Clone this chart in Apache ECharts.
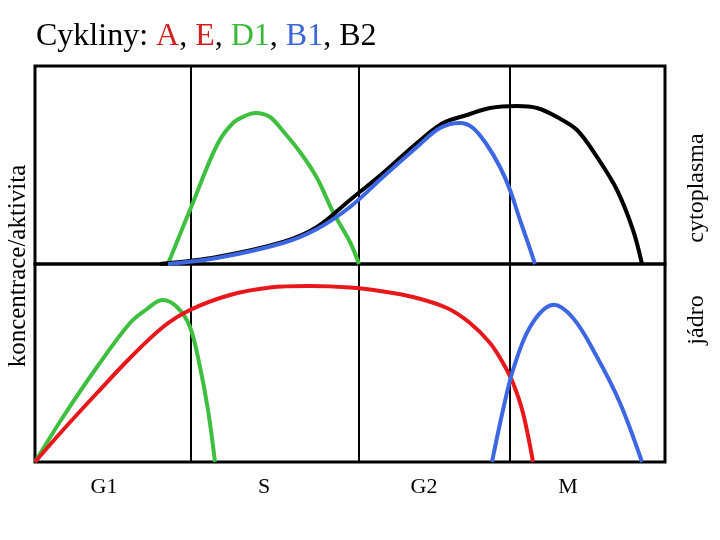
<!DOCTYPE html>
<html>
<head>
<meta charset="utf-8">
<script src="https://cdn.jsdelivr.net/npm/echarts@6/dist/echarts.min.js"></script>
<style>html,body{margin:0;padding:0;background:#fff;}#c{width:720px;height:540px;}</style>
</head>
<body>
<div id="c"></div>
<script>
// x: time across the cell cycle (arbitrary units 0..630), y: level above each panel's baseline (0..198)
const phaseBounds = [156, 324, 475];
const phaseLabelPos = [69, 229, 389, 533];
const phaseNames = ['G1', 'S', 'G2', 'M'];

// cytoplasm panel (top)
const d1Cyto = [[133,0],[157,59],[182,119],[198,141],[212,149],[222,151],[235,147],[248,133],[265,112],[282,86],[298,52],[315,22],[324,0]];
const b2Cyto = [[125,0],[182,7],[248,22],[282,37],[315,64],[348,91],[382,121],[408,141],[432,149],[455,156],[482,158],[502,156],[522,147],[542,134],[562,107],[582,74],[598,34],[607,0]];
const b1Cyto = [[133,0],[182,6],[248,21],[282,35],[315,57],[348,87],[382,117],[405,136],[425,141],[438,136],[452,119],[465,97],[475,74],[485,44],[493,21],[500,0]];

// nucleus panel (bottom)
const d1Nuc = [[0,0],[28,45],[62,95],[95,139],[112,153],[127,162],[142,155],[155,135],[165,95],[173,52],[180,0]];
const aNuc = [[0,0],[28,32],[62,69],[95,104],[128,135],[155,152],[195,167],[235,174.5],[275,176],[315,174.5],[345,171],[378,165],[412,154],[435,139],[455,119],[468,99],[478,79],[488,49],[498,0]];
const b1Nuc = [[457,0],[468,52],[478,92],[495,135],[517,157],[538,144],[562,105],[585,59],[607,0]];

const RED = '#e8171b', GREEN = '#3fbf3f', BLUE = '#3d66e3', BLACK = '#000000';
const FONT = 'Liberation Serif';

const chart = echarts.init(document.getElementById('c'));

function curve(name, pts, color, gi) {
  return {
    type: 'custom', name, xAxisIndex: gi, yAxisIndex: gi, silent: true, clip: false,
    data: pts,
    renderItem: (params, api) => {
      if (params.dataIndex !== 0) return null;
      return {
        type: 'polyline',
        shape: {points: pts.map(p => api.coord(p)), smooth: 0.35},
        style: {stroke: color, lineWidth: 4, fill: 'none', lineJoin: 'round', lineCap: 'butt'}
      };
    }
  };
}
function phaseLines(gi) {
  return {
    type: 'custom', name: 'phases' + gi, xAxisIndex: gi, yAxisIndex: gi, silent: true,
    data: phaseBounds.map(v => [v, 0]),
    renderItem: (params, api) => {
      const a = api.coord([api.value(0), 0]);
      const b = api.coord([api.value(0), 198]);
      return {type: 'line', shape: {x1: a[0], y1: a[1], x2: b[0], y2: b[1]},
              style: {stroke: '#000', lineWidth: 2}};
    }
  };
}

const hiddenAxis = {show: true, axisLine: {show: false}, axisTick: {show: false}, axisLabel: {show: false}, splitLine: {show: false}};

function vText(text, x, y, size) {
  return {
    type: 'text', x, y, rotation: Math.PI / 2, silent: true,
    style: {text, fontFamily: FONT, fontSize: size, fill: '#000', align: 'center', verticalAlign: 'middle'}
  };
}

chart.setOption({
  animation: false,
  backgroundColor: '#fff',
  title: {
    left: 31, top: 16,
    text: '{k|Cykliny: }{r|A}{k|, }{r|E}{k|, }{g|D1}{k|, }{b|B1}{k|, B2}',
    textStyle: {
      fontFamily: FONT, fontSize: 32, fontWeight: 'normal',
      rich: {
        k: {color: '#000', fontFamily: FONT, fontSize: 32},
        r: {color: '#d42020', fontFamily: FONT, fontSize: 32},
        g: {color: '#3cb83c', fontFamily: FONT, fontSize: 32},
        b: {color: '#3d66d8', fontFamily: FONT, fontSize: 32}
      }
    }
  },
  grid: [
    {left: 35, right: 55, top: 66, height: 198, show: true, borderColor: '#000', borderWidth: 3, backgroundColor: 'transparent', containLabel: false, outerBoundsMode: 'none'},
    {left: 35, right: 55, top: 264, height: 198, show: true, borderColor: '#000', borderWidth: 3, backgroundColor: 'transparent', containLabel: false, outerBoundsMode: 'none'}
  ],
  xAxis: [
    Object.assign({type: 'value', gridIndex: 0, min: 0, max: 630}, hiddenAxis),
    {type: 'value', gridIndex: 1, min: 0, max: 630,
     axisLine: {show: false}, axisTick: {show: false}, splitLine: {show: false},
     axisLabel: {show: true, customValues: phaseLabelPos, margin: 14,
       fontFamily: FONT, fontSize: 22, color: '#000',
       formatter: v => phaseNames[phaseLabelPos.indexOf(v)] || ''}}
  ],
  yAxis: [
    Object.assign({type: 'value', gridIndex: 0, min: 0, max: 198}, hiddenAxis),
    Object.assign({type: 'value', gridIndex: 1, min: 0, max: 198}, hiddenAxis)
  ],
  graphic: [
    vText('koncentrace/aktivita', 18, 266, 25),
    vText('cytoplasma', 697, 188, 24),
    vText('jádro', 697, 320, 24)
  ],
  series: [
    phaseLines(0),
    phaseLines(1),
    curve('D1 cyto', d1Cyto, GREEN, 0),
    curve('B2 cyto', b2Cyto, BLACK, 0),
    curve('B1 cyto', b1Cyto, BLUE, 0),
    curve('D1 nuc', d1Nuc, GREEN, 1),
    curve('A nuc', aNuc, RED, 1),
    curve('B1 nuc', b1Nuc, BLUE, 1)
  ]
});
</script>
</body>
</html>
